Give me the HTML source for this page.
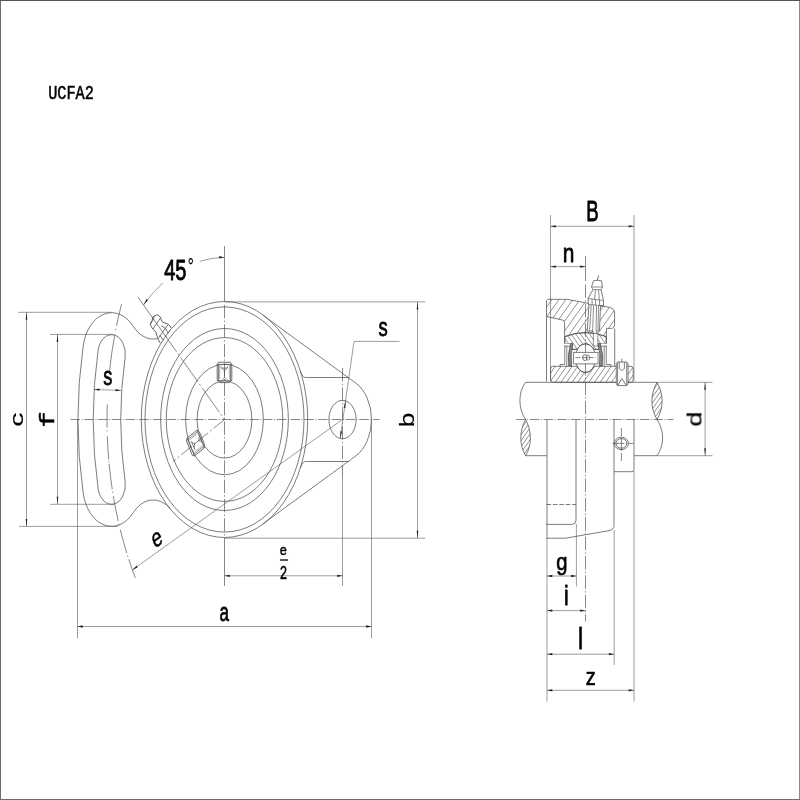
<!DOCTYPE html>
<html lang="en">
<head>
<meta charset="utf-8">
<title>UCFA2</title>
<style>
html,body{margin:0;padding:0;background:#fff;}
body{width:800px;height:800px;overflow:hidden;position:relative;font-family:"Liberation Sans",sans-serif;}
.bd{position:absolute;}
.bl{left:0;top:0;width:1px;height:800px;background:#6c6c6c;}
.br{left:799px;top:0;width:1px;height:800px;background:#8a8a8a;}
.bt{left:0;top:0;width:800px;height:1px;background:#555;}
.bb{left:0;top:799px;width:800px;height:1px;background:#6e6e6e;}
svg{position:absolute;left:0;top:0;display:block;}
</style>
</head>
<body>
<svg width="800" height="800" viewBox="0 0 800 800">
<defs><clipPath id="hl"><path d="M525.6 419.5C519.2 431 519.2 445 525.6 455.7C532 445 532 431 525.6 419.5Z"/></clipPath><clipPath id="hr"><path d="M657 382.3C650.2 394 650.2 408 657 419.5C663.8 408 663.8 394 657 382.3Z"/></clipPath><clipPath id="hh"><path d="M546.5 300.6L547.8 299.3L567 299.3L609.5 307.4Q614.6 308.6 614.6 313L614.6 324.2Q614.6 328.4 611.3 328.4L606.5 328.4L606.5 336.6Q585.5 328.4 564.6 336.6L564.6 322.6Q564.6 320.4 562.4 320L546.5 316.5Z"/></clipPath><clipPath id="ho"><path d="M564.9 336.6Q585.5 328.6 606.1 336.6L606.1 343.7L599 343.7L599 349.4L594.4 349.4Q590.5 343.8 585.5 343.8Q580.5 343.8 576.6 349.4L572 349.4L572 343.7L564.9 343.7Z"/></clipPath><clipPath id="hi"><path d="M552.6 366.3L577 366.3Q580.5 372.6 585.5 372.6Q590.5 372.6 594 366.3L631 366.3Q633.2 366.3 633.2 368.8L633.2 379.8Q633.2 382.3 631 382.3L552.6 382.3Q550.6 382.3 550.6 379.8L550.6 368.8Q550.6 366.3 552.6 366.3Z"/></clipPath></defs>
<g clip-path="url(#hl)" stroke="#777" stroke-width="0.8" fill="none"><path d="M489.4 455.7L515 419.5M493.6 455.7L519.2 419.5M497.8 455.7L523.4 419.5M502 455.7L527.6 419.5M506.2 455.7L531.8 419.5M510.4 455.7L536 419.5M514.6 455.7L540.2 419.5M518.8 455.7L544.4 419.5M523 455.7L548.6 419.5M527.2 455.7L552.8 419.5M531.4 455.7L557 419.5M535.6 455.7L561.2 419.5M539.8 455.7L565.4 419.5M544 455.7L569.6 419.5M548.2 455.7L573.8 419.5M552.4 455.7L578 419.5M556.6 455.7L582.2 419.5M560.8 455.7L586.4 419.5"/></g>
<g clip-path="url(#hr)" stroke="#777" stroke-width="0.8" fill="none"><path d="M619.69 419.5L646 382.3M623.89 419.5L650.2 382.3M628.09 419.5L654.4 382.3M632.29 419.5L658.6 382.3M636.49 419.5L662.8 382.3M640.69 419.5L667 382.3M644.89 419.5L671.2 382.3M649.09 419.5L675.4 382.3M653.29 419.5L679.6 382.3M657.49 419.5L683.8 382.3M661.69 419.5L688 382.3M665.89 419.5L692.2 382.3M670.09 419.5L696.4 382.3M674.29 419.5L700.6 382.3M678.49 419.5L704.8 382.3M682.69 419.5L709 382.3M686.89 419.5L713.2 382.3M691.09 419.5L717.4 382.3"/></g>
<g clip-path="url(#hh)" stroke="#777" stroke-width="0.8" fill="none"><path d="M517.71 338L546 298M524.71 338L553 298M531.71 338L560 298M538.71 338L567 298M545.71 338L574 298M552.71 338L581 298M559.71 338L588 298M566.71 338L595 298M573.71 338L602 298M580.71 338L609 298M587.71 338L616 298M594.71 338L623 298M601.71 338L630 298M608.71 338L637 298M615.71 338L644 298M622.71 338L651 298M629.71 338L658 298M636.71 338L665 298M643.71 338L672 298"/></g>
<g clip-path="url(#ho)" stroke="#777" stroke-width="0.8" fill="none"><path d="M551.27 332L564 350M555.87 332L568.6 350M560.47 332L573.2 350M565.07 332L577.8 350M569.67 332L582.4 350M574.27 332L587 350M578.87 332L591.6 350M583.47 332L596.2 350M588.07 332L600.8 350M592.67 332L605.4 350M597.27 332L610 350M601.87 332L614.6 350M606.47 332L619.2 350M611.07 332L623.8 350M615.67 332L628.4 350"/></g>
<g clip-path="url(#hi)" stroke="#777" stroke-width="0.8" fill="none"><path d="M537.98 383L550 366M543.58 383L555.6 366M549.18 383L561.2 366M554.78 383L566.8 366M560.38 383L572.4 366M565.98 383L578 366M571.58 383L583.6 366M577.18 383L589.2 366M582.78 383L594.8 366M588.38 383L600.4 366M593.98 383L606 366M599.58 383L611.6 366M605.18 383L617.2 366M610.78 383L622.8 366M616.38 383L628.4 366M621.98 383L634 366M627.58 383L639.6 366M633.18 383L645.2 366M638.78 383L650.8 366M644.38 383L656.4 366"/></g>
<g fill="none" stroke="#5a5a5a" stroke-width="0.6">
<path d="M342.5 478L342.5 586"/>
<path d="M224.5 257.46A114.6 162.04 0 0 0 199.7 261.3"/>
<path d="M162.93 282.83A114.6 162.04 0 0 0 143.47 304.92"/>
<path d="M18 312.3L111 312.3"/>
<path d="M19 526.4L118 526.4"/>
<path d="M26.5 312.3L26.5 526.4"/>
<path d="M50 334.4L113 334.4"/>
<path d="M50 504.3L114 504.3"/>
<path d="M57.5 334.4L57.5 504.3"/>
<path d="M94.3 389.5L120.9 390.4"/>
<path d="M224.5 301.9L425.3 301.9"/>
<path d="M224.5 538.2L425.3 538.2"/>
<path d="M417.5 301.9L417.5 538.2"/>
<path d="M354 341.4L399.5 341.4"/>
<path d="M354 341.4L340.2 438.5"/>
<path d="M342.5 419.5L132.39 569.9"/>
<path d="M77.5 419.5L77.5 638.4"/>
<path d="M371.5 419.5L371.5 638.4"/>
<path d="M77.5 626.5L371.5 626.5"/>
<path d="M224.5 575.8L342.5 575.8"/>
<path d="M279.9 560L288.1 560" stroke="#111" stroke-width="1.4"/>
<path d="M550.5 215L550.5 381"/>
<path d="M634 215L634 381.5"/>
<path d="M634 471L634 701.5"/>
<path d="M547 538L547 701.5"/>
<path d="M576.4 524L576.4 586.5"/>
<path d="M614.2 530L614.2 665"/>
<path d="M550.5 226.3L634 226.3"/>
<path d="M550.5 266.6L585.5 266.6"/>
<path d="M547 576L576.4 576"/>
<path d="M547 610.6L585.5 610.6"/>
<path d="M547 654.2L614.2 654.2"/>
<path d="M547 690.3L634 690.3"/>
<path d="M657 382.3L712.5 382.3"/>
<path d="M657 455.7L712.5 455.7"/>
<path d="M705.1 382.3L705.1 455.7"/>
</g>
<g fill="none" stroke="#555" stroke-width="0.7">
<path d="M70.5 419.5L379.5 419.5" stroke-dasharray="9.5 1.6 1 1.65"/>
<path d="M224.5 246L224.5 301.5"/>
<path d="M224.5 305L224.5 538" stroke-dasharray="13.4 2.3 1.4 2.3"/>
<path d="M224.5 538L224.5 586"/>
<path d="M342.5 368L342.5 478" stroke-dasharray="13.4 2.3 1.4 2.3"/>
<path d="M121.57 304.2A235.5 333 0 0 0 109.41 372" stroke-dasharray="22.2 3 1.5 4.3 50 0"/>
<path d="M107.24 404.4A235.5 333 0 0 0 135.39 578" stroke-dasharray="23.1 2.6 1.2 4.95 23.15 1.6 1.2 1.55 25.8 2.3 1.5 3.1 25.3 3 1.5 4.4 24.3 2.3 1.5 2.6 19 0"/>
<path d="M137.88 297.02L224.5 419.5" stroke-dasharray="30 2.5 2 2.5"/>
<path d="M224.5 419.5L172.97 461.57" stroke-dasharray="14 2.5 2 2.5"/>
<path d="M585.5 256L585.5 281"/>
<path d="M585.5 284.5L585.5 621.5" stroke-dasharray="13.4 2.3 1.4 2.3"/>
<path d="M516 419.5L673.5 419.5" stroke-dasharray="9.5 1.6 1 1.65"/>
<path d="M621.8 358.6L621.8 386" stroke-width="0.7" stroke-dasharray="6 1.5 1 1.5"/>
<path d="M598.5 275.5L597 282" stroke-width="0.8"/>
<path d="M612.5 443.4L633.5 443.4" stroke-dasharray="12 1.5 1 1.5"/>
<path d="M621.4 428L621.4 461.6" stroke-dasharray="8 2 13 2"/>
</g>
<g fill="none" stroke="#505050" stroke-width="0.75" stroke-linejoin="round">
<path d="M262.72 315L355.82 383.08A29 41.01 0 0 1 355.82 455.92L262.72 524"/>
<path d="M300.2 371Q302.5 377.5 305.5 377.5L349 377.5"/>
<path d="M300.2 468Q302.5 461.5 305.5 461.5L349 461.5"/>
<ellipse cx="342.5" cy="419.5" rx="13.6" ry="19.2"/>
<path d="M98.17 349.84A249.25 352.44 0 0 0 98.17 489.16A13.75 19.44 0 0 0 125.12 481.48A221.75 313.55 0 0 1 125.12 357.52A13.75 19.44 0 0 0 98.17 349.84Z"/>
<path d="M170.41 330.11A26.5 37.47 0 0 1 133.35 326.49A29 41.01 0 0 0 83.22 345.58A264.5 374 0 0 0 83.22 493.42A29 41.01 0 0 0 133.35 512.51A26.5 37.47 0 0 1 170.41 508.89"/>
<path d="M171 328L169.75 325.75L168.25 324.25L166.5 323.5L164 322.75L162 321.5L161.25 319.5L160.75 317.75L159.25 316L157.25 314.75L154.5 316L152.5 317.5L152.25 320.5L150.25 324.25L151.25 326.75L152.75 329L154.75 330.75L156 332.5L156.75 335.25L157.5 337.5L158.5 340L160.25 343" stroke-width="0.9" fill="#fff"/>
<path d="M152.23 317.32L166.38 337.31" stroke-width="0.7"/>
<path d="M152.75 329L160.6 317.75" stroke-width="0.8"/>
<path d="M158.4 338.2L168.25 324.25" stroke-width="0.8"/>
<path d="M150.4 324.2L154.6 316.2" stroke-width="0.8"/>
<path d="M163.34 340.21L159.87 335.31" stroke-width="0.8"/>
<path d="M168.43 333.01L164.96 328.11" stroke-width="0.8"/>
<path d="M164.96 328.11L161.21 325.61" stroke-width="0.8"/>
<path d="M220.1 382.59L217.2 380.4L217.2 364.42L218.7 362.23L230.3 362.23L231.8 364.42L231.8 380.4L228.9 382.59Z" stroke-width="0.85"/>
<path d="M218.5 380.4L218.5 364.42" stroke-width="0.7"/>
<path d="M219.6 378.99L219.6 365.84" stroke-width="0.45"/>
<path d="M230.5 380.4L230.5 364.42" stroke-width="0.7"/>
<path d="M229.4 378.99L229.4 365.84" stroke-width="0.45"/>
<path d="M217.2 380.4L231.8 380.4" stroke-width="0.7"/>
<path d="M217.2 364.42L231.8 364.42" stroke-width="0.7"/>
<path d="M221.2 366.48L221.2 368.1L227.5 368.1L227.5 366.48" stroke-width="0.7"/>
<path d="M222.1 368.1L223.7 370.29L225.3 370.29L226.7 368.1" stroke-width="0.6"/>
<path d="M224.5 370.29L224.5 377.29" stroke-width="0.7"/>
<path d="M222.7 379.48L224.5 377.29L226.3 379.48" stroke-width="0.6"/>
<path d="M204.1 443.34L204.2 447.99L194.42 455.98L192.33 455.24L186.53 441.03L187.12 438.1L196.9 430.11L199.7 432.56Z" stroke-width="0.85"/>
<path d="M203.55 446.4L193.77 454.39" stroke-width="0.7"/>
<path d="M202.14 445.76L194.08 452.33" stroke-width="0.45"/>
<path d="M197.55 431.7L187.77 439.69" stroke-width="0.7"/>
<path d="M197.24 433.76L189.18 440.33" stroke-width="0.45"/>
<path d="M204.2 447.99L196.9 430.11" stroke-width="0.7"/>
<path d="M194.42 455.98L187.12 438.1" stroke-width="0.7"/>
<path d="M193.67 450.05L194.67 449.24L191.52 441.53L190.52 442.34" stroke-width="0.7"/>
<path d="M194.22 448.14L194.76 445.08L193.96 443.12L191.92 442.51" stroke-width="0.6"/>
<path d="M194.36 444.1L198.65 440.6" stroke-width="0.7"/>
<path d="M200.89 441.71L198.65 440.6L199.09 437.3" stroke-width="0.6"/>
<ellipse cx="224.5" cy="419.5" rx="83.2" ry="118"/>
<ellipse cx="224.5" cy="419.5" rx="79.5" ry="112.6"/>
<ellipse cx="224.5" cy="419.5" rx="63.85" ry="91"/>
<ellipse cx="224.5" cy="419.5" rx="58.25" ry="81.9"/>
<ellipse cx="224.5" cy="419.5" rx="38.85" ry="55.3"/>
<ellipse cx="224.5" cy="419.5" rx="27.4" ry="38.55"/>
<path d="M525.6 382.3L657 382.3"/>
<path d="M525.6 455.7L546.5 455.7"/>
<path d="M634 455.7L657 455.7"/>
<path d="M525.6 382.3C518 392 518 409 525.6 419.5"/>
<path d="M525.6 419.5C519.2 431 519.2 445 525.6 455.7C532 445 532 431 525.6 419.5Z"/>
<path d="M657 382.3C650.2 394 650.2 408 657 419.5C663.8 408 663.8 394 657 382.3Z"/>
<path d="M657 419.5C664.5 431 664.5 445 657 455.7"/>
<path d="M546.5 300.6L547.8 299.3L567 299.3L609.5 307.4Q614.6 308.6 614.6 313L614.6 324.2Q614.6 328.4 611.3 328.4L606.5 328.4L606.5 336.6Q585.5 328.4 564.6 336.6L564.6 322.6Q564.6 320.4 562.4 320L546.5 316.5Z"/>
<path d="M546.5 316.5L546.5 381.5"/>
<path d="M614.7 328.4L614.7 366.2"/>
<path d="M606.5 336.6L606.5 343.7"/>
<path d="M564.6 336.6L564.6 343.7"/>
<path d="M564.9 336.6Q585.5 328.6 606.1 336.6L606.1 343.7L599 343.7L599 349.4L594.4 349.4Q590.5 343.8 585.5 343.8Q580.5 343.8 576.6 349.4L572 349.4L572 343.7L564.9 343.7Z"/>
<ellipse cx="585.5" cy="358" rx="10.2" ry="14.4"/>
<rect x="573.4" y="352.4" width="24.7" height="11.5" fill="#fff"/>
<ellipse cx="584.9" cy="357.6" rx="2.2" ry="3" stroke-width="0.8"/>
<rect x="586.6" y="355.2" width="3" height="4.8" rx="1" ry="1.4" stroke-width="0.7"/>
<path d="M575.5 357.6L595.5 357.6" stroke-width="0.7" stroke-dasharray="5 1.5"/>
<rect x="564.6" y="343.7" width="7.4" height="22.5" fill="#fff" stroke="none"/>
<rect x="598.9" y="343.7" width="7.4" height="22.5" fill="#fff" stroke="none"/>
<path d="M564.75 345.2L564.75 364.5L560 364.5L560 366.2" stroke-width="0.7"/>
<path d="M566.8 346.2L566.8 366.2" stroke-width="0.7"/>
<path d="M564.75 346.2L570.2 346.2" stroke-width="0.7"/>
<path d="M570.6 343.6Q567.2 355 568.8 366L571.6 366Q570.2 355 572.8 343.6Z" fill="#8a8a8a" stroke="#444" stroke-width="0.7"/>
<path d="M572.4 349.3L577.5 349.3" stroke-width="0.7"/>
<path d="M606.25 345.2L606.25 364.5L611 364.5L611 366.2" stroke-width="0.7"/>
<path d="M604.2 346.2L604.2 366.2" stroke-width="0.7"/>
<path d="M606.25 346.2L600.8 346.2" stroke-width="0.7"/>
<path d="M600.4 343.6Q603.8 355 602.2 366L599.4 366Q600.8 355 598.2 343.6Z" fill="#8a8a8a" stroke="#444" stroke-width="0.7"/>
<path d="M598.6 349.3L593.5 349.3" stroke-width="0.7"/>
<path d="M552.6 366.3L577 366.3Q580.5 372.6 585.5 372.6Q590.5 372.6 594 366.3L631 366.3Q633.2 366.3 633.2 368.8L633.2 379.8Q633.2 382.3 631 382.3L552.6 382.3Q550.6 382.3 550.6 379.8L550.6 368.8Q550.6 366.3 552.6 366.3Z"/>
<path d="M616.3 363.5L617.6 362L626.7 362L628 363.5L628 384L626.7 385.6L617.6 385.6L616.3 384Z" fill="#fff"/>
<path d="M617.6 362.3L617.6 385.3" stroke-width="0.7"/>
<path d="M626.7 362.3L626.7 385.3" stroke-width="0.7"/>
<path d="M619.3 362L619.3 368.6L621.8 370.6L624.4 368.6L624.4 362" stroke-width="0.7"/>
<path d="M617.8 385.4L621.8 378.6L626.4 385.4" stroke-width="0.8"/>
<path d="M593.5 280.8Q597.5 279.6 601.5 280.8L602.5 287L601.6 288.6L601 289.6L603.5 300.5L603.5 305.8L600.5 305.6L599.5 330.6L596.8 331L596.8 333.4L593 333.4L593 331L587.2 331.2L589 304.6L588.5 304.5L588 298.5L593 289.6L592.4 288.4L591.5 287Z" fill="#fff"/>
<path d="M591.5 287L602.5 287" stroke-width="0.65"/>
<path d="M593 289.6L601 289.6" stroke-width="0.65"/>
<path d="M588 298.5L603.5 300.5" stroke-width="0.65"/>
<path d="M588.5 304.5L603.5 305.8" stroke-width="0.65"/>
<path d="M592 299L592.2 305" stroke-width="0.65"/>
<path d="M595.5 299.5L595.6 305.3" stroke-width="0.65"/>
<path d="M599.5 300L599.5 305.6" stroke-width="0.65"/>
<path d="M595.5 289.8L594.5 299.3" stroke-width="0.65"/>
<path d="M598.5 289.8L599.3 300" stroke-width="0.65"/>
<path d="M591.2 305L589.6 331" stroke-width="0.65"/>
<path d="M593.6 305.2L592.6 331" stroke-width="0.65"/>
<path d="M596.6 305.4L596 331" stroke-width="0.65"/>
<path d="M598.6 305.5L598 330.6" stroke-width="0.65"/>
<path d="M593.4 333.4L597.8 333.4L597.8 346L593.4 346Z" fill="#fff" stroke-width="0.65"/>
<path d="M547 419.5L547 538.2"/>
<path d="M576 419.5L576 520.4Q576 524.4 572 524.4L546.5 524.4"/>
<path d="M546.5 504.5L576 504.5" stroke-dasharray="4.6 1.8"/>
<path d="M614 419.5L614 525.6Q614 529.8 608.8 530.7L565.5 538.2L546.5 538.2"/>
<path d="M634 419.5L634 469.4Q634 471.7 631.8 471.7L614 471.7"/>
<ellipse cx="621.4" cy="443.4" rx="7.1" ry="6.25"/>
<ellipse cx="621.4" cy="443.4" rx="5.5" ry="4.8" stroke-width="0.8"/>
</g>
<g fill="#222" stroke="none">
<path d="M224.5 257.46L219.17 258.22L219.25 255.96Z"/>
<path d="M143.47 304.92L146.65 298.82L147.78 300.42Z"/>
<path d="M26.5 312.3L27.3 319.79L25.7 319.79Z"/>
<path d="M26.5 526.4L25.7 518.91L27.3 518.91Z"/>
<path d="M57.5 334.4L58.3 341.89L56.7 341.89Z"/>
<path d="M57.5 504.3L56.7 496.81L58.3 496.81Z"/>
<path d="M94.3 389.5L99.62 388.55L99.58 390.82Z"/>
<path d="M120.9 390.4L115.58 391.35L115.62 389.08Z"/>
<path d="M417.5 301.9L418.3 309.39L416.7 309.39Z"/>
<path d="M417.5 538.2L416.7 530.71L418.3 530.71Z"/>
<path d="M345.6 400.4L345.34 407.97L343.77 407.52Z"/>
<path d="M340.2 438.6L340.46 431.03L342.03 431.48Z"/>
<path d="M132.39 569.9L136.76 565.51L137.48 567.52Z"/>
<path d="M77.5 626.5L82.8 625.37L82.8 627.63Z"/>
<path d="M371.5 626.5L366.2 627.63L366.2 625.37Z"/>
<path d="M224.5 575.8L229.8 574.67L229.8 576.93Z"/>
<path d="M342.5 575.8L337.2 576.93L337.2 574.67Z"/>
<path d="M550.5 226.3L555.8 225.17L555.8 227.43Z"/>
<path d="M634 226.3L628.7 227.43L628.7 225.17Z"/>
<path d="M550.5 266.6L555.8 265.47L555.8 267.73Z"/>
<path d="M585.5 266.6L580.2 267.73L580.2 265.47Z"/>
<path d="M547 576L552.3 574.87L552.3 577.13Z"/>
<path d="M576.4 576L571.1 577.13L571.1 574.87Z"/>
<path d="M547 610.6L552.3 609.47L552.3 611.73Z"/>
<path d="M585.5 610.6L580.2 611.73L580.2 609.47Z"/>
<path d="M547 654.2L552.3 653.07L552.3 655.33Z"/>
<path d="M614.2 654.2L608.9 655.33L608.9 653.07Z"/>
<path d="M547 690.3L552.3 689.17L552.3 691.43Z"/>
<path d="M634 690.3L628.7 691.43L628.7 689.17Z"/>
<path d="M705.1 382.3L705.9 389.79L704.3 389.79Z"/>
<path d="M705.1 455.7L704.3 448.21L705.9 448.21Z"/>
</g>
<g fill="#000" stroke="#000" stroke-width="0.3" stroke-linejoin="round" opacity="0.999" font-family="'Liberation Sans', sans-serif">
<text transform="matrix(1.5225 0 0 1.9718 48.16 98.51)" font-size="10" font-family="'Liberation Mono', monospace">UCFA2</text>
<text transform="matrix(2 0 0 3.0411 164.2 280.24)" font-size="10">45</text>
<text transform="matrix(1.5161 0 0 2.2258 187.72 274.01)" font-size="10" stroke-width="0.1">°</text>
<text transform="matrix(1.828 0 0 2.5043 103.23 385.07)" font-size="10">s</text>
<text transform="matrix(1.8495 0 0 2.5217 378.42 336.37)" font-size="10">s</text>
<text transform="matrix(0 -2.8478 1.8103 0 22.95 426.75)" font-size="10" stroke-width="0.08">c</text>
<text transform="matrix(0 -2.62 2.0397 0 54.19 427.21)" font-size="10" font-family="'Liberation Mono', monospace">f</text>
<text transform="matrix(0 -2.6042 2.0261 0 413.99 427.3)" font-size="10" stroke-width="0.08">b</text>
<text transform="matrix(0 -2.7083 2.0915 0 701.48 426.68)" font-size="10" stroke-width="0.08">d</text>
<text transform="matrix(1.6327 -1.1687 0.8265 2.3087 154.86 548.66)" font-size="10" stroke-width="0.2">e</text>
<text transform="matrix(1.2727 0 0 1.4655 279.82 555.43)" font-size="10">e</text>
<text transform="matrix(1.2577 0 0 1.8493 279.96 578.52)" font-size="10">2</text>
<text transform="matrix(1.7037 0 0 2.6207 219.49 621.34)" font-size="10">a</text>
<text transform="matrix(1.8584 0 0 2.9167 586.29 221.06)" font-size="10">B</text>
<text transform="matrix(2.0879 0 0 2.5439 562.76 261.62)" font-size="10">n</text>
<text transform="matrix(2.0208 0 0 2.4258 556.29 570.34)" font-size="10">g</text>
<text transform="matrix(2.0833 0 0 2.7815 563.96 605.08)" font-size="10">i</text>
<text transform="matrix(2.0833 0 0 2.8808 578.36 649.32)" font-size="10">l</text>
<text transform="matrix(2 0 0 2.4464 585.7 685.23)" font-size="10">z</text>
</g>
</svg>
<div class="bd bl"></div><div class="bd br"></div><div class="bd bt"></div><div class="bd bb"></div>
</body>
</html>
